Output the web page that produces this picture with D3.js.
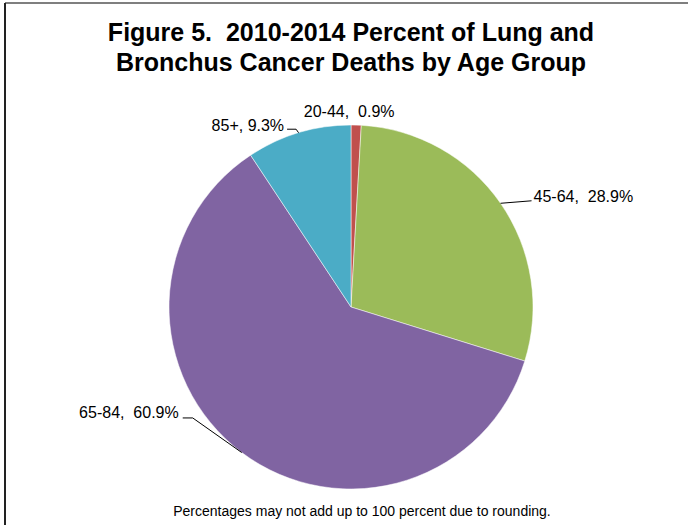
<!DOCTYPE html>
<html>
<head>
<meta charset="utf-8">
<script src="https://cdn.jsdelivr.net/npm/d3@7"></script>
<style>
  body { margin: 0; background: #fff; }
  text { font-family: "Liberation Sans", Arial, sans-serif; fill: #000; white-space: pre; }
</style>
</head>
<body>
<script>
var ageGroups = ['20-44', '45-64', '65-84', '85+']
var percents = [0.9, 28.9, 60.9, 9.3]
var labelText = ['20-44,  0.9%', '45-64,  28.9%', '65-84,  60.9%', '85+, 9.3%']
var colors = ['#C0504D', '#9BBB59', '#8064A2', '#4BACC6']

var titleLines = ['Figure 5.  2010-2014 Percent of Lung and', 'Bronchus Cancer Deaths by Age Group']
var footnote = 'Percentages may not add up to 100 percent due to rounding.'

var width = 688, height = 525
var cx = 351, cy = 307, r = 182

var svg = d3.select('body').append('svg')
  .attr('width', width)
  .attr('height', height)

// chart frame (only top and left edges fall inside the crop)
svg.append('line').attr('x1', 5).attr('x2', width).attr('y1', 3).attr('y2', 3)
  .attr('stroke', '#7f7f7f').attr('stroke-width', 2)
svg.append('line').attr('x1', 5).attr('x2', 5).attr('y1', 3).attr('y2', height)
  .attr('stroke', '#222').attr('stroke-width', 2)

svg.selectAll('text.title').data(titleLines).enter().append('text')
  .attr('class', 'title')
  .attr('x', 351)
  .attr('y', function(d, i){ return 41 + i * 30 })
  .attr('text-anchor', 'middle')
  .style('font-size', '25px')
  .style('font-weight', 'bold')
  .text(function(d){ return d })

var pie = d3.pie().sort(null).value(function(d){ return d })
var arcs = pie(percents)
var arc = d3.arc().innerRadius(0).outerRadius(r)

var g = svg.append('g').attr('transform', 'translate(' + cx + ',' + cy + ')')

g.selectAll('path').data(arcs).enter().append('path')
  .attr('d', arc)
  .attr('fill', function(d, i){ return colors[i] })
  .attr('stroke', '#fff')
  .attr('stroke-width', 0.5)

// where each label sits relative to the point on the rim at the slice's mid angle
var labelLayout = [
  {elbow: [-7, -8], hook: 0, anchor: 'middle', tx: 0, ty: 0},
  {elbow: [31, -2.5], hook: 0, anchor: 'start', tx: 2, ty: 1.5},
  {elbow: [-49, -34.6], hook: -10, anchor: 'end', tx: -4, ty: 0},
  {elbow: [-2.5, -3.5], hook: -9, anchor: 'end', tx: -3, ty: 2}
]

arcs.forEach(function(d, i){
  var a = (d.startAngle + d.endAngle) / 2
  var p = [Math.sin(a) * r, -Math.cos(a) * r]
  var L = labelLayout[i]
  var e = [p[0] + L.elbow[0], p[1] + L.elbow[1]]
  var end = [e[0] + L.hook, e[1]]

  if (i > 0) {
    g.append('path')
      .attr('d', d3.line()([p, e, end]))
      .attr('fill', 'none')
      .attr('stroke', '#000')
      .attr('stroke-width', 1)
  }

  g.append('text')
    .attr('x', end[0] + L.tx)
    .attr('y', end[1] + L.ty)
    .attr('text-anchor', L.anchor)
    .style('font-size', '16px')
    .text(labelText[i])
})

svg.append('text')
  .attr('x', 362)
  .attr('y', 516)
  .attr('text-anchor', 'middle')
  .style('font-size', '14px')
  .text(footnote)
</script>
</body>
</html>
